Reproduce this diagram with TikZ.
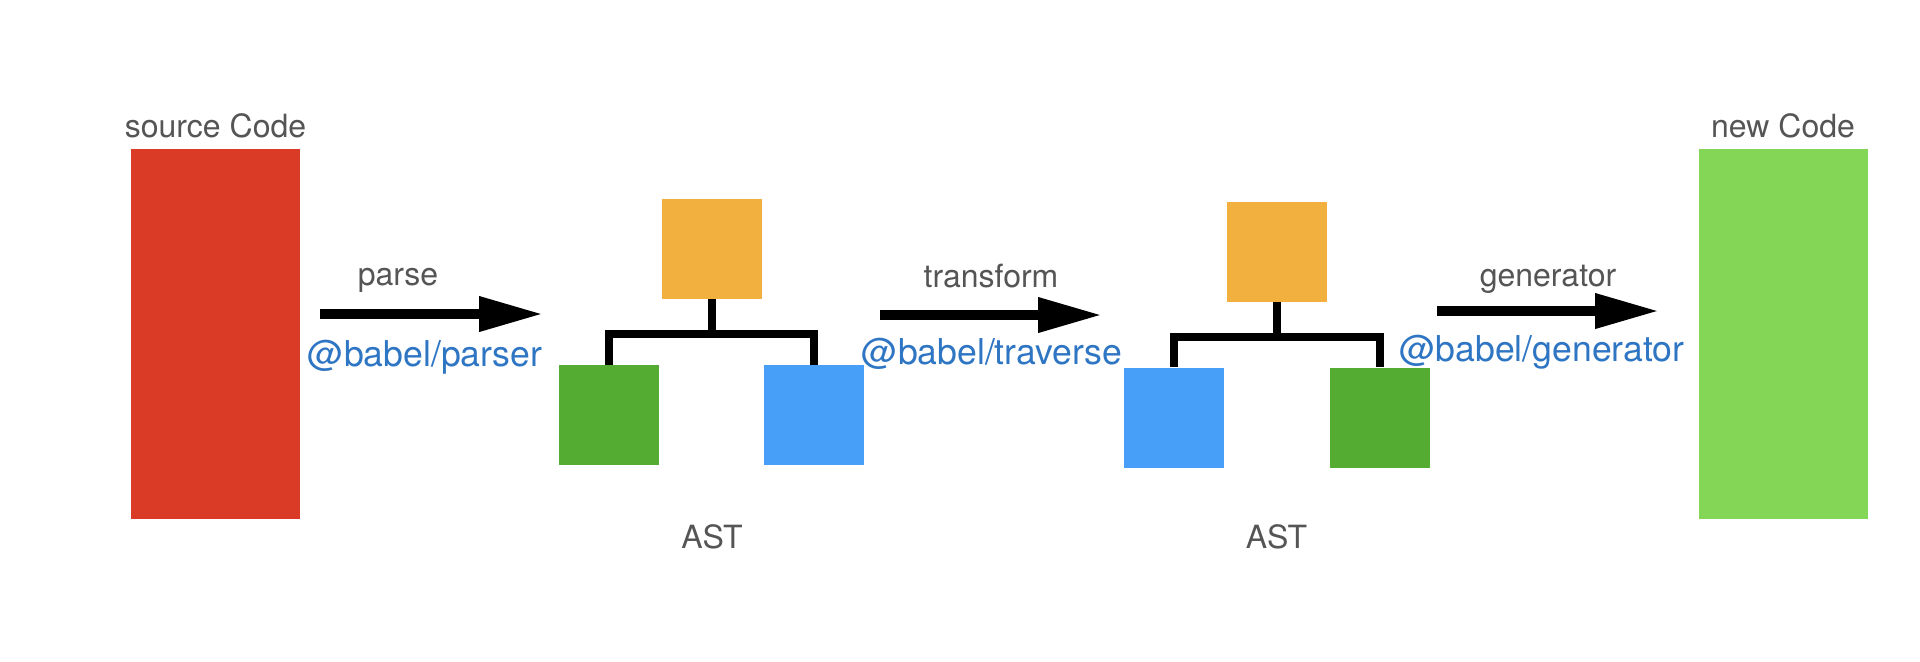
\documentclass[tikz,border=0pt]{standalone}
\usepackage{fontspec}
\setmainfont{TeX Gyre Heros}
\usetikzlibrary{arrows.meta}

\definecolor{codered}{HTML}{DA3B26}
\definecolor{codegreen}{HTML}{84D656}
\definecolor{astorange}{HTML}{F2B13E}
\definecolor{astgreen}{HTML}{55AC33}
\definecolor{astblue}{HTML}{489FF8}
\definecolor{labelgray}{HTML}{555555}
\definecolor{libblue}{HTML}{2E75C3}

\tikzset{
  codebox/.style={inner sep=0pt, minimum width=84.5pt, minimum height=185pt},
  astbox/.style={inner sep=0pt, minimum width=50pt, minimum height=50pt},
  flow/.style={line width=5pt, -{Triangle[length=32pt,width=16.5pt]}},
  branch/.style={line width=4pt},
  caption/.style={text=labelgray, anchor=base, font=\fontsize{16}{19}\selectfont},
  libname/.style={text=libblue, anchor=base, font=\fontsize{17.8}{21}\selectfont},
}

\begin{document}
\begin{tikzpicture}[x=0.5pt,y=-0.5pt]
\useasboundingbox (0,0) rectangle (1920,661);

% input and output
\node[codebox, fill=codered] (src) at (215.5,334) {};
\node[caption] (srclabel) at (215.5,137) {source Code};
\node[codebox, fill=codegreen] (dst) at (1783,334) {};
\node[caption] (dstlabel) at (1783,137) {new Code};

% first AST
\node[astbox, fill=astorange] (ast1top) at (712,249) {};
\node[astbox, fill=astgreen] (ast1left) at (609,415) {};
\node[astbox, fill=astblue] (ast1right) at (814,415) {};
\coordinate (ast1bar) at (712,334);
\draw[branch] (ast1top.south) -- (ast1bar);
\draw[branch] (ast1left.north) |- (ast1bar) -| (ast1right.north);
\node[caption] (ast1label) at (712,548) {AST};

% second AST
\node[astbox, fill=astorange] (ast2top) at (1276.5,251.5) {};
\node[astbox, fill=astblue] (ast2left) at (1174,417.5) {};
\node[astbox, fill=astgreen] (ast2right) at (1380,417.5) {};
\coordinate (ast2bar) at (1276.5,337);
\draw[branch] (ast2top.south) -- (ast2bar);
\draw[branch] (ast2left.north) |- (ast2bar) -| (ast2right.north);
\node[caption] (ast2label) at (1276.5,548) {AST};

% steps
\coordinate (parsestart) at (320,314);
\coordinate (parseend) at (543,314);
\draw[flow] (parsestart) -- (parseend);
\node[caption] (parselabel) at (398,285) {parse};
\node[libname] (parselib) at (425,366) {@babel/parser};

\coordinate (transstart) at (880,315);
\coordinate (transend) at (1102,315);
\draw[flow] (transstart) -- (transend);
\node[caption] (translabel) at (991,287) {transform};
\node[libname] (translib) at (992,364) {@babel/traverse};

\coordinate (genstart) at (1437,311);
\coordinate (genend) at (1659,311);
\draw[flow] (genstart) -- (genend);
\node[caption] (genlabel) at (1548,286) {generator};
\node[libname] (genlib) at (1542,361.5) {@babel/generator};
\end{tikzpicture}
\end{document}
